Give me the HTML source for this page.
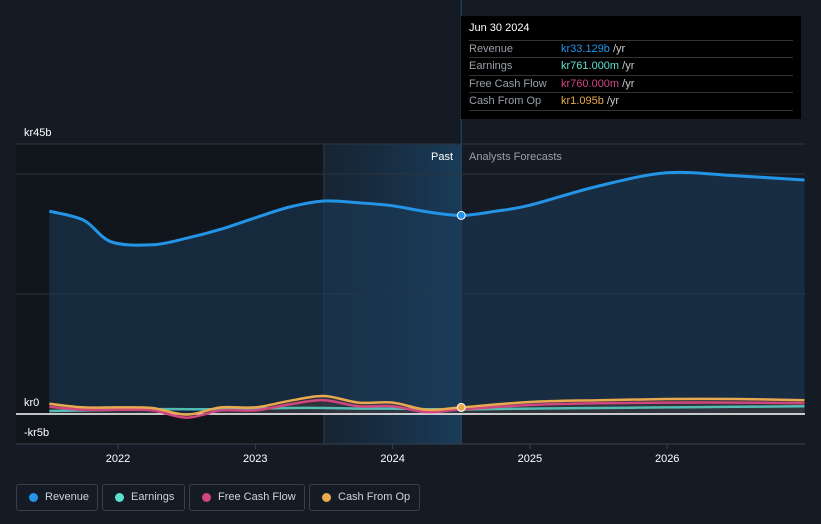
<!DOCTYPE html>
<html><head><meta charset="utf-8"><style>
body{margin:0;background:#151b25;width:821px;height:524px;overflow:hidden;font-family:"Liberation Sans",sans-serif}
svg{position:absolute;left:0;top:0}
.leg{position:absolute;top:484px;height:27px;border:1px solid #3a404a;border-radius:3px;box-sizing:border-box;color:#d0d3d8;font-size:11px;line-height:25px;padding-left:28px}
.leg i{position:absolute;left:12px;top:8px;width:9px;height:9px;border-radius:50%}
#tip{position:absolute;left:461px;top:16px;width:340px;height:103px;background:#000;font-size:11px;color:#9aa0a8}
#tip .r{position:absolute;left:8px;width:324px;border-top:1px solid #333;height:17px;line-height:17px}
#tip .r span{position:absolute;left:92px}
</style></head><body>
<svg id="chart" width="821" height="524"></svg>
<div id="tip">
<div style="position:absolute;left:8px;top:6px;color:#fff;font-size:11px">Jun 30 2024</div>
<div class="r" style="top:24px">Revenue<span><b style="color:#2394e6;font-weight:normal">kr33.129b</b> <span style="position:static;color:#ccc">/yr</span></span></div>
<div class="r" style="top:41px">Earnings<span><b style="color:#5ee0cf;font-weight:normal">kr761.000m</b> <span style="position:static;color:#ccc">/yr</span></span></div>
<div class="r" style="top:59px">Free Cash Flow<span><b style="color:#d0467e;font-weight:normal">kr760.000m</b> <span style="position:static;color:#ccc">/yr</span></span></div>
<div class="r" style="top:76px;border-bottom:1px solid #333">Cash From Op<span><b style="color:#e9a94f;font-weight:normal">kr1.095b</b> <span style="position:static;color:#ccc">/yr</span></span></div>
</div>
<div class="leg" style="left:16px;width:82px"><i style="background:#2394e6"></i>Revenue</div>
<div class="leg" style="left:102px;width:83px"><i style="background:#5ee0cf"></i>Earnings</div>
<div class="leg" style="left:189px;width:116px"><i style="background:#d0467e"></i>Free Cash Flow</div>
<div class="leg" style="left:309px;width:111px"><i style="background:#e9a94f"></i>Cash From Op</div>
<script>
const revX=[2021.5,2021.75,2021.95,2022.25,2022.5,2022.75,2023,2023.25,2023.5,2023.75,2024,2024.25,2024.5,2024.75,2025,2025.5,2026,2026.5,2027];
const revY=[33.8,32.3,28.7,28.2,29.3,30.8,32.7,34.5,35.5,35.2,34.7,33.7,33.1,33.8,34.8,38,40.2,39.7,39];
const smX=[2021.5,2021.75,2022,2022.25,2022.5,2022.75,2023,2023.25,2023.5,2023.75,2024,2024.25,2024.5,2025,2025.5,2026,2026.5,2027];
const earnY=[0.5,0.6,0.7,0.8,0.8,0.8,0.9,1.0,1.0,0.9,0.9,0.8,0.76,0.9,1.0,1.1,1.2,1.3];
const fcfY=[1.2,0.7,0.7,0.6,-0.6,0.6,0.6,1.6,2.3,1.3,1.3,0.3,0.76,1.5,1.8,1.9,1.9,1.8];
const cfoY=[1.7,1.1,1.1,1.0,-0.1,1.1,1.1,2.2,3.0,1.9,1.9,0.7,1.1,2.0,2.3,2.5,2.5,2.3];
const yTicks=[45,0,-5];
const yTickLabels=["kr45b","kr0","-kr5b"];
const grid=[40,20];
const xTicks=[2022,2023,2024,2025,2026];
const sx=v=>118+(v-2022)*137.3, sy=v=>414-v*6;
const svg=document.getElementById('chart');const NS='http://www.w3.org/2000/svg';
function mk(t,a,name){const e=document.createElementNS(NS,t);for(const k in a)e.setAttribute(k,a[k]);


svg.appendChild(e);return e;}
function path(xs,ys){const p=xs.map((x,i)=>[sx(x),sy(ys[i])]);let d='M'+p[0];
for(let i=0;i<p.length-1;i++){const a=p[i-1]||p[i],b=p[i],c=p[i+1],e=p[i+2]||c;
d+=' C'+(b[0]+(c[0]-a[0])/6)+','+(b[1]+(c[1]-a[1])/6)+' '+(c[0]-(e[0]-b[0])/6)+','+(c[1]-(e[1]-b[1])/6)+' '+c;}return d;}
const defs=mk('defs',{},'defs');defs.innerHTML='<linearGradient id="pg" x1="0" x2="1"><stop offset="0" stop-color="#1a3a55" stop-opacity="0.3"/><stop offset="1" stop-color="#1b4a70" stop-opacity="0.7"/></linearGradient>';
mk('rect',{x:16,y:144,width:307,height:300,fill:'#11151c'},'past-dark-bg');
mk('rect',{x:sx(2023.5),y:144,width:sx(2024.5)-sx(2023.5),height:300,fill:'url(#pg)'},'past-highlight');
mk('line',{x1:sx(2023.5),x2:sx(2023.5),y1:144,y2:444,stroke:'#2a3a48'},'divider');
mk('line',{x1:sx(2024.5),x2:sx(2024.5),y1:0,y2:444,stroke:'#2a4a66'},'today-line');
[45,...grid].forEach(g=>mk('line',{x1:16,x2:805,y1:sy(g),y2:sy(g),stroke:'#2e343d'},'gridline'));
mk('line',{x1:16,x2:805,y1:sy(-5),y2:sy(-5),stroke:'#3a404a'},'x-axis-line');
yTicks.forEach((v,i)=>{const t=mk('text',{x:24,y:sy(v)-8,fill:'#fff','font-size':11},'y-tick-label');t.textContent=yTickLabels[i];});
xTicks.forEach(v=>{mk('line',{x1:sx(v),x2:sx(v),y1:444,y2:449,stroke:'#3a404a'},'x-tick');const t=mk('text',{x:sx(v),y:462,fill:'#fff','font-size':11,'text-anchor':'middle'},'x-tick-label');t.textContent=v;});
let t=mk('text',{x:453,y:160,fill:'#fff','font-size':11,'text-anchor':'end'},'past-label');t.textContent='Past';
t=mk('text',{x:469,y:160,fill:'#9aa0a8','font-size':11},'forecast-label');t.textContent='Analysts Forecasts';
const rp=path(revX,revY);
mk('path',{d:rp+' L'+sx(2027)+','+sy(0)+' L'+sx(2021.5)+','+sy(0)+'Z',fill:'#1c3c5a','fill-opacity':0.55},'revenue-area');
mk('path',{d:rp,fill:'none',stroke:'#2394e6','stroke-width':3},'revenue-line');
mk('path',{d:path(smX,cfoY)+' L'+sx(2027)+','+sy(0)+' L'+sx(2021.5)+','+sy(0)+'Z',fill:'#4a3a3a','fill-opacity':0.5},'cfo-area');
mk('line',{x1:16,x2:805,y1:sy(0),y2:sy(0),stroke:'#fff','stroke-width':1.5},'zero-line');
mk('path',{d:path(smX,earnY),fill:'none',stroke:'#5ee0cf','stroke-width':2.5,'stroke-opacity':0.8},'earnings-line');
mk('path',{d:path(smX,fcfY),fill:'none',stroke:'#d0467e','stroke-width':2.5},'fcf-line');
mk('path',{d:path(smX,cfoY),fill:'none',stroke:'#e9a94f','stroke-width':2.5},'cfo-line');
mk('circle',{cx:sx(2024.5),cy:sy(33.1),r:4,fill:'#2394e6',stroke:'#fff','stroke-width':1},'revenue-marker');
mk('circle',{cx:sx(2024.5),cy:sy(1.1),r:4,fill:'#e9a94f',stroke:'#fff','stroke-width':1},'cfo-marker');
</script>
</body></html>
